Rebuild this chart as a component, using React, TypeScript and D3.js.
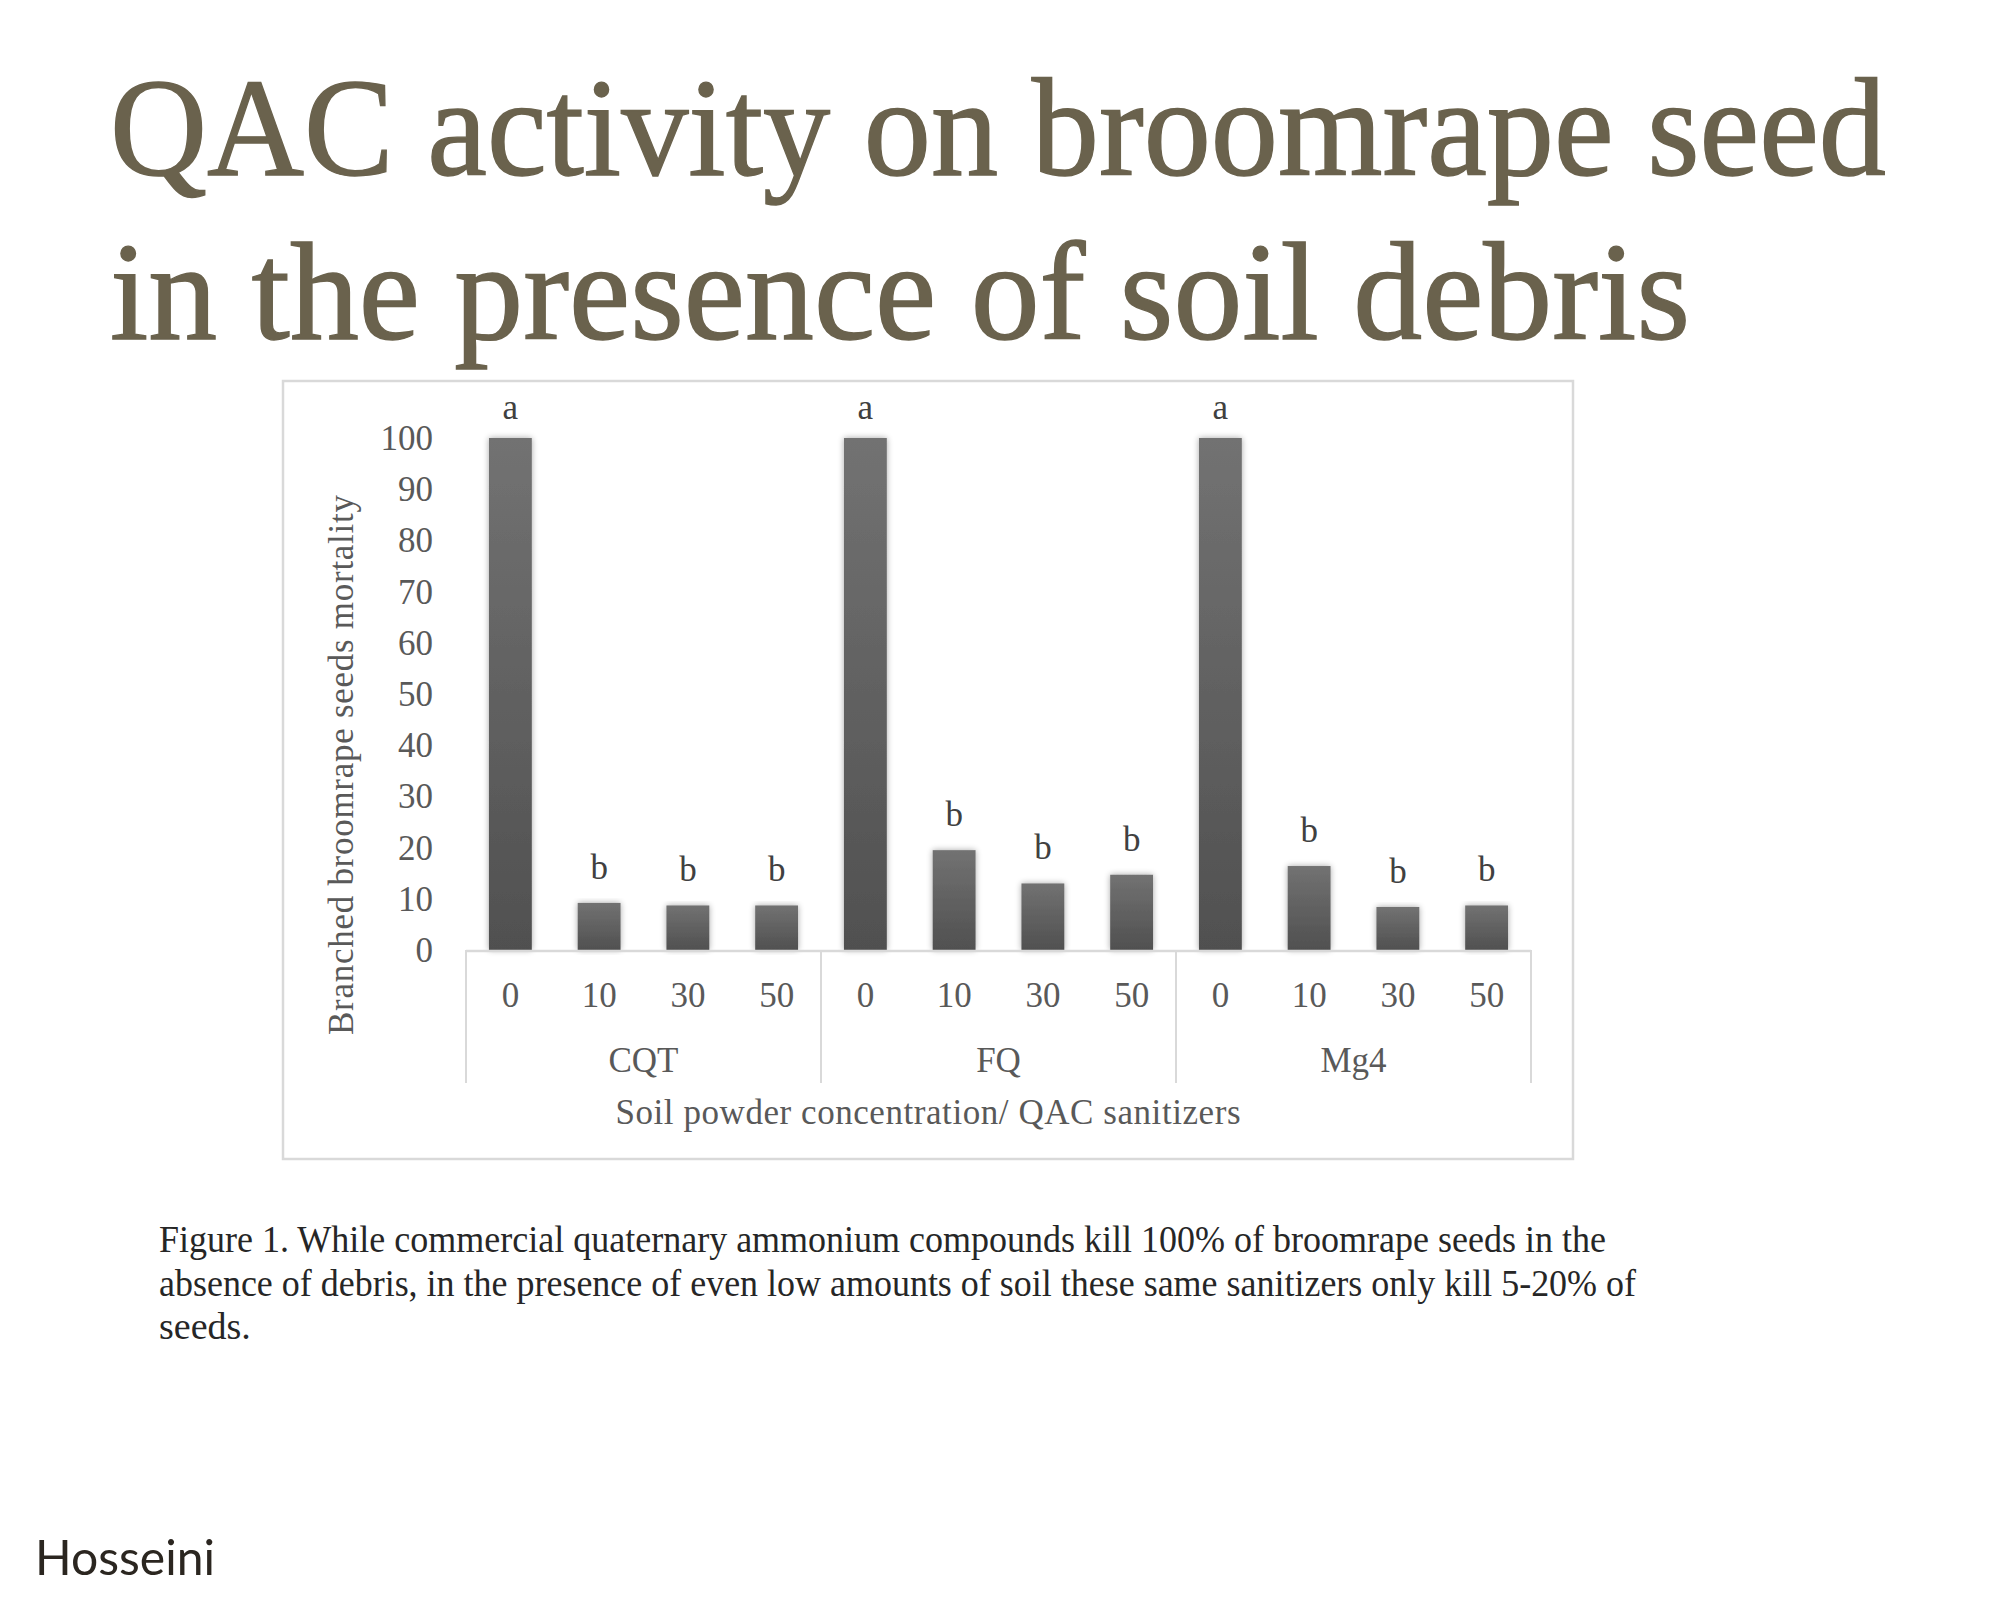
import React from "react";
import * as d3 from "d3";

const titleLines = ["QAC activity on broomrape seed", "in the presence of soil debris"];
const groups = ["CQT", "FQ", "Mg4"];
const concentrations = ["0", "10", "30", "50"];
const cqtValues = [100, 9.2, 8.7, 8.7];
const fqValues = [100, 19.5, 13.0, 14.7];
const mg4Values = [100, 16.4, 8.4, 8.7];
const cqtLetters = ["a", "b", "b", "b"];
const fqLetters = ["a", "b", "b", "b"];
const mg4Letters = ["a", "b", "b", "b"];
const yTicks = [0, 10, 20, 30, 40, 50, 60, 70, 80, 90, 100];
const yAxisTitle = "Branched broomrape seeds mortality";
const xAxisTitle = "Soil powder concentration/ QAC sanitizers";
const captionLines = [
  "Figure 1. While commercial quaternary ammonium compounds kill 100% of broomrape seeds in the",
  "absence of debris, in the presence of even low amounts of soil these same sanitizers only kill 5-20% of",
  "seeds.",
];
const author = "Hosseini";

const seriesValues = [cqtValues, fqValues, mg4Values];
const seriesLetters = [cqtLetters, fqLetters, mg4Letters];

export default function App() {
  const W = 2000;
  const H = 1622;
  const plotLeft = 466;
  const plotRight = 1531;
  const y0 = 950;
  const y100 = 438;

  const xGroup = d3.scaleBand<string>().domain(groups).range([plotLeft, plotRight]).padding(0);
  const gw = xGroup.bandwidth();
  const xInner = d3
    .scaleBand<string>()
    .domain(concentrations)
    .range([0, gw])
    .paddingInner(0.517)
    .paddingOuter(0.2585);
  const y = d3.scaleLinear().domain([0, 100]).range([y0, y100]);

  const serif = "'Liberation Serif', 'Times New Roman', serif";
  const gray = "#595959";
  const sepBottom = 1083;

  const separators = [...groups.map((g) => xGroup(g) as number), plotRight];

  return (
    <svg
      width={W}
      height={H}
      viewBox={`0 0 ${W} ${H}`}
      style={{ position: "absolute", left: 0, top: 0, display: "block", background: "#fff" }}
    >
      <defs>
        <linearGradient id="barGrad" x1="0" y1="0" x2="0" y2="1">
          <stop offset="0%" stopColor="#727272" />
          <stop offset="100%" stopColor="#505050" />
        </linearGradient>
        <filter id="barShadow" x="-30%" y="-10%" width="160%" height="120%">
          <feGaussianBlur in="SourceAlpha" stdDeviation="3" result="blur" />
          <feOffset in="blur" dx="0" dy="0" result="off" />
          <feComponentTransfer in="off" result="soft">
            <feFuncA type="linear" slope="0.35" />
          </feComponentTransfer>
          <feMerge>
            <feMergeNode in="soft" />
            <feMergeNode in="SourceGraphic" />
          </feMerge>
        </filter>
      </defs>
      <rect x={0} y={0} width={W} height={H} fill="#ffffff" />

      {/* Title */}
      {titleLines.map((t, i) => (
        <text
          key={t}
          x={110}
          y={175 + i * 164}
          fontFamily={serif}
          fontSize={139}
          fill="#6a624d"
          stroke="#6a624d"
          strokeWidth={1.4}
          textLength={i === 0 ? 1776 : 1580}
          lengthAdjust="spacingAndGlyphs"
        >
          {t}
        </text>
      ))}

      {/* Chart frame */}
      <rect x={283} y={381} width={1290} height={778} fill="#fff" stroke="#d9d9d9" strokeWidth={2.5} />

      {/* Y tick labels */}
      {yTicks.map((t) => (
        <text
          key={t}
          x={433}
          y={y(t) + 12}
          textAnchor="end"
          fontFamily={serif}
          fontSize={35}
          fill={gray}
        >
          {t}
        </text>
      ))}

      {/* Y axis title */}
      <text
        transform={`translate(353, 765) rotate(-90)`}
        textAnchor="middle"
        fontFamily={serif}
        fontSize={35}
        fill={gray}
        textLength={540}
        lengthAdjust="spacing"
      >
        {yAxisTitle}
      </text>

      {/* Bars */}
      {groups.map((g, gi) =>
        concentrations.map((c, ci) => {
          const v = seriesValues[gi][ci];
          const bx = (xGroup(g) as number) + (xInner(c) as number);
          const bw = xInner.bandwidth();
          return (
            <g key={g + c}>
              <rect
                x={bx}
                y={y(v)}
                width={bw}
                height={y(0) - y(v)}
                fill="url(#barGrad)"
                filter="url(#barShadow)"
              />
              <text
                x={bx + bw / 2}
                y={y(v) - (v >= 100 ? 19 : 24)}
                textAnchor="middle"
                fontFamily={serif}
                fontSize={35}
                fill="#404040"
              >
                {seriesLetters[gi][ci]}
              </text>
            </g>
          );
        })
      )}

      {/* X axis line */}
      <line x1={plotLeft} x2={plotRight} y1={y0 + 1} y2={y0 + 1} stroke="#d9d9d9" strokeWidth={2.5} />
      {separators.map((sx, i) => (
        <line key={i} x1={sx} x2={sx} y1={y0} y2={sepBottom} stroke="#d9d9d9" strokeWidth={2} />
      ))}

      {/* X tick labels */}
      {groups.map((g) =>
        concentrations.map((c) => (
          <text
            key={g + c}
            x={(xGroup(g) as number) + (xInner(c) as number) + xInner.bandwidth() / 2}
            y={1007}
            textAnchor="middle"
            fontFamily={serif}
            fontSize={35}
            fill={gray}
          >
            {c}
          </text>
        ))
      )}
      {groups.map((g) => (
        <text
          key={g}
          x={(xGroup(g) as number) + gw / 2}
          y={1072}
          textAnchor="middle"
          fontFamily={serif}
          fontSize={35}
          fill={gray}
        >
          {g}
        </text>
      ))}

      {/* X axis title */}
      <text
        x={928}
        y={1124}
        textAnchor="middle"
        fontFamily={serif}
        fontSize={35}
        fill={gray}
        textLength={625}
        lengthAdjust="spacing"
      >
        {xAxisTitle}
      </text>

      {/* Caption */}
      {captionLines.map((t, i) => (
        <text
          key={i}
          x={159}
          y={1252 + i * 43.5}
          fontFamily={serif}
          fontSize={38}
          fill="#262626"
          {...(i === 0 ? { textLength: 1447, lengthAdjust: "spacingAndGlyphs" } : {})}
          {...(i === 1 ? { textLength: 1477, lengthAdjust: "spacingAndGlyphs" } : {})}
        >
          {t}
        </text>
      ))}

      {/* Author */}
      <text
        x={35}
        y={1575}
        fontFamily="Lato, 'Open Sans', sans-serif"
        fontSize={48}
        fill="#2b2620"
        textLength={180}
        lengthAdjust="spacingAndGlyphs"
      >
        {author}
      </text>
    </svg>
  );
}
